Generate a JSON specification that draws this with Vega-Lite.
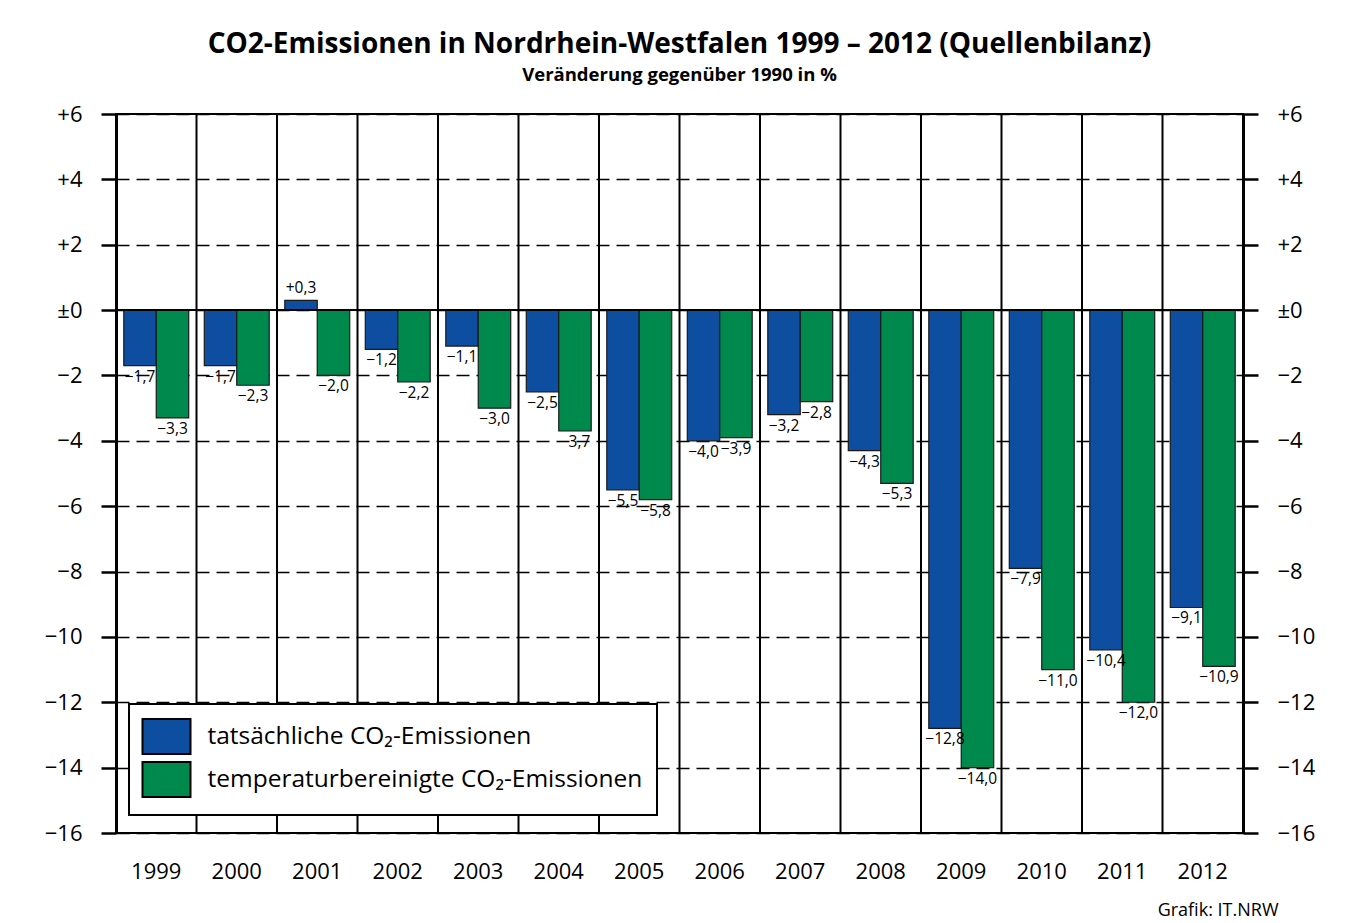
{
  "$schema": "https://vega.github.io/schema/vega-lite/v6.json",
  "width": 1127,
  "height": 719,
  "autosize": "none",
  "padding": {"left": 116, "top": 114, "right": 108, "bottom": 90},
  "background": "white",
  "title": {
    "text": "CO2-Emissionen in Nordrhein-Westfalen 1999 – 2012 (Quellenbilanz)",
    "subtitle": "Veränderung gegenüber 1990 in %",
    "anchor": "middle",
    "frame": "group",
    "offset": 19,
    "font": "Open Sans",
    "fontSize": 28,
    "fontWeight": "bold",
    "color": "black",
    "subtitleFont": "Open Sans",
    "subtitleFontSize": 18.5,
    "subtitleFontWeight": "bold",
    "subtitleColor": "black",
    "subtitlePadding": 7
  },
  "data": {
    "values": [
      {"year": "1999", "series": "tatsächliche CO₂-Emissionen", "value": -1.7},
      {"year": "1999", "series": "temperaturbereinigte CO₂-Emissionen", "value": -3.3},
      {"year": "2000", "series": "tatsächliche CO₂-Emissionen", "value": -1.7},
      {"year": "2000", "series": "temperaturbereinigte CO₂-Emissionen", "value": -2.3},
      {"year": "2001", "series": "tatsächliche CO₂-Emissionen", "value": 0.3},
      {"year": "2001", "series": "temperaturbereinigte CO₂-Emissionen", "value": -2.0},
      {"year": "2002", "series": "tatsächliche CO₂-Emissionen", "value": -1.2},
      {"year": "2002", "series": "temperaturbereinigte CO₂-Emissionen", "value": -2.2},
      {"year": "2003", "series": "tatsächliche CO₂-Emissionen", "value": -1.1},
      {"year": "2003", "series": "temperaturbereinigte CO₂-Emissionen", "value": -3.0},
      {"year": "2004", "series": "tatsächliche CO₂-Emissionen", "value": -2.5},
      {"year": "2004", "series": "temperaturbereinigte CO₂-Emissionen", "value": -3.7},
      {"year": "2005", "series": "tatsächliche CO₂-Emissionen", "value": -5.5},
      {"year": "2005", "series": "temperaturbereinigte CO₂-Emissionen", "value": -5.8},
      {"year": "2006", "series": "tatsächliche CO₂-Emissionen", "value": -4.0},
      {"year": "2006", "series": "temperaturbereinigte CO₂-Emissionen", "value": -3.9},
      {"year": "2007", "series": "tatsächliche CO₂-Emissionen", "value": -3.2},
      {"year": "2007", "series": "temperaturbereinigte CO₂-Emissionen", "value": -2.8},
      {"year": "2008", "series": "tatsächliche CO₂-Emissionen", "value": -4.3},
      {"year": "2008", "series": "temperaturbereinigte CO₂-Emissionen", "value": -5.3},
      {"year": "2009", "series": "tatsächliche CO₂-Emissionen", "value": -12.8},
      {"year": "2009", "series": "temperaturbereinigte CO₂-Emissionen", "value": -14.0},
      {"year": "2010", "series": "tatsächliche CO₂-Emissionen", "value": -7.9},
      {"year": "2010", "series": "temperaturbereinigte CO₂-Emissionen", "value": -11.0},
      {"year": "2011", "series": "tatsächliche CO₂-Emissionen", "value": -10.4},
      {"year": "2011", "series": "temperaturbereinigte CO₂-Emissionen", "value": -12.0},
      {"year": "2012", "series": "tatsächliche CO₂-Emissionen", "value": -9.1},
      {"year": "2012", "series": "temperaturbereinigte CO₂-Emissionen", "value": -10.9}
    ]
  },
  "layer": [
    {
      "transform": [{"filter": "datum.series === 'tatsächliche CO₂-Emissionen'"}],
      "mark": {"type": "rule", "color": "black", "strokeWidth": 2},
      "encoding": {
        "x": {
          "field": "year", "type": "ordinal", "bandPosition": 0,
          "scale": {"paddingInner": 0, "paddingOuter": 0},
          "axis": {
            "labelAngle": 0, "labelFont": "Open Sans", "labelFontSize": 22, "labelColor": "black",
            "labelBaseline": "middle", "labelPadding": 38, "ticks": false, "tickSize": 0, "domain": false, "grid": false,
            "title": "Grafik: IT.NRW", "titleFont": "Open Sans", "titleFontSize": 18, "titleFontWeight": "normal",
            "titleColor": "black", "titleAnchor": "end", "titleAlign": "right", "titleBaseline": "middle",
            "titleX": 1162, "titleY": 77
          }
        }
      }
    },
    {
      "mark": {"type": "bar", "stroke": "#1a1a1a", "strokeWidth": 1.2},
      "encoding": {
        "x": {"field": "year", "type": "ordinal"},
        "xOffset": {"field": "series", "type": "nominal", "scale": {"paddingOuter": 0.24, "paddingInner": 0}},
        "y": {
          "field": "value", "type": "quantitative",
          "scale": {"domain": [-16, 6], "nice": false, "zero": false},
          "axis": {
            "orient": "left", "values": [-16, -14, -12, -10, -8, -6, -4, -2, 0, 2, 4, 6],
            "tickSize": 15, "tickWidth": 2.5, "tickColor": "black",
            "domainColor": "black", "domainWidth": 3,
            "labelFont": "Open Sans", "labelFontSize": 22, "labelColor": "black", "labelPadding": 19,
            "labelExpr": "datum.value > 0 ? '+' + datum.value : (datum.value < 0 ? '−' + abs(datum.value) : '±0')",
            "grid": true, "gridColor": "black", "gridDash": [13, 7], "gridWidth": 1.5,
            "title": null
          }
        },
        "color": {
          "field": "series", "type": "nominal",
          "scale": {"domain": ["tatsächliche CO₂-Emissionen", "temperaturbereinigte CO₂-Emissionen"], "range": ["#0d4ea1", "#00894d"]},
          "legend": {
            "orient": "none", "legendX": 13, "legendY": 590, "title": null,
            "symbolType": "M-1.086,-1H1.657V1H-1.086Z", "symbolSize": 1225,
            "symbolStrokeColor": "black", "symbolStrokeWidth": 2, "symbolOpacity": 1,
            "labelFont": "Open Sans", "labelFontSize": 24.5, "labelColor": "black", "labelLimit": 0,
            "labelOffset": 27.5, "rowPadding": 0, "padding": 14,
            "strokeColor": "black", "fillColor": "white", "cornerRadius": 0
          }
        }
      }
    },
    {
      "mark": {"type": "rule", "color": "black", "strokeWidth": 2},
      "encoding": {
        "y": {
          "datum": 0, "type": "quantitative",
          "scale": {"domain": [-16, 6], "nice": false, "zero": false},
          "axis": {
            "orient": "right", "values": [-16, -14, -12, -10, -8, -6, -4, -2, 0, 2, 4, 6],
            "tickSize": 15, "tickWidth": 2.5, "tickColor": "black",
            "domainColor": "black", "domainWidth": 3,
            "labelFont": "Open Sans", "labelFontSize": 22, "labelColor": "black", "labelPadding": 19,
            "labelExpr": "datum.value > 0 ? '+' + datum.value : (datum.value < 0 ? '−' + abs(datum.value) : '±0')",
            "grid": false, "title": null
          }
        }
      }
    },
    {
      "transform": [{"filter": "datum.value < 0"}],
      "mark": {"type": "text", "baseline": "top", "dy": 4, "font": "Open Sans", "fontSize": 15.5, "color": "black"},
      "encoding": {
        "x": {"field": "year", "type": "ordinal"},
        "xOffset": {"field": "series", "type": "nominal"},
        "y": {"field": "value", "type": "quantitative", "axis": null},
        "text": {"field": "value", "type": "quantitative", "format": "+.1f"}
      }
    },
    {
      "transform": [{"filter": "datum.value >= 0"}],
      "mark": {"type": "text", "baseline": "bottom", "dy": -4, "font": "Open Sans", "fontSize": 15.5, "color": "black"},
      "encoding": {
        "x": {"field": "year", "type": "ordinal"},
        "xOffset": {"field": "series", "type": "nominal"},
        "y": {"field": "value", "type": "quantitative", "axis": null},
        "text": {"field": "value", "type": "quantitative", "format": "+.1f"}
      }
    }
  ],
  "resolve": {"axis": {"y": "independent"}},
  "config": {
    "locale": {"number": {"decimal": ",", "thousands": ".", "grouping": [3], "currency": ["", " €"], "minus": "−"}},
    "view": {"stroke": "black", "strokeWidth": 2},
    "legend": {"strokeWidth": 2}
  }
}
